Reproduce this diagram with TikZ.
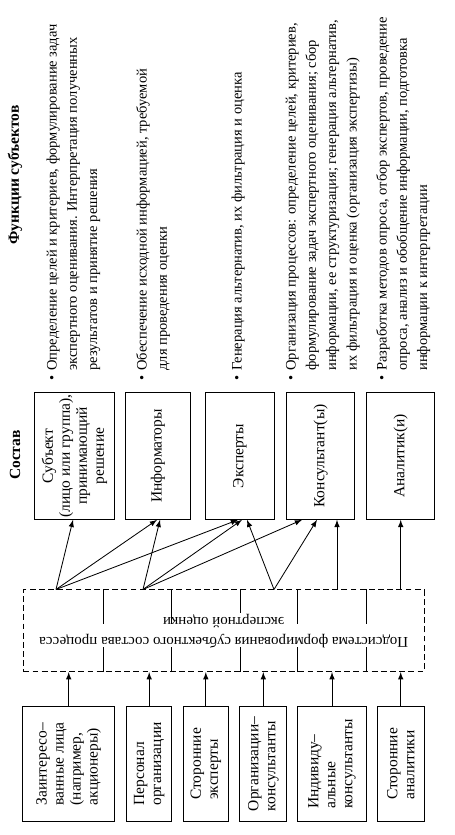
\documentclass[tikz,border=0pt]{standalone}
\usepackage{fontspec}
\setmainfont{Liberation Serif}

\tikzset{
  box/.style={draw, line width=0.6pt, rotate=90, inner sep=0pt, font=\fontsize{9.3}{10.2}\selectfont},
  funcs/.style={rotate=90, anchor=north west, inner sep=0pt, font=\fontsize{8.7}{12.2}\selectfont},
  head/.style={rotate=90, inner sep=0pt, font=\fontsize{9.3}{11}\selectfont\bfseries},
  arr/.style={-latex, line width=0.5pt},
}
\newcommand{\bul}[1]{\begin{tabular}{@{}l@{\hspace{3pt}}l@{}}\textbullet & #1\end{tabular}}

\begin{document}
\begin{tikzpicture}[x=0.6pt, y=-0.6pt]
  \useasboundingbox (0,0) rectangle (455,835);

  % headings
  \node[head] (hfunc) at (15,175) {Функции субъектов};
  \node[head] (hsost) at (15,455) {Состав};

  % functions
  \node[funcs] (f1) at (42,381) {\bul{Определение целей и критериев, формулирование задач\\
    & экспертного оценивания. Интерпретация полученных\\
    & результатов и принятие решения}};
  \node[funcs] (f2) at (132,381) {\bul{Обеспечение исходной информацией, требуемой\\
    & для проведения оценки}};
  \node[funcs] (f3) at (227,381) {\bul{Генерация альтернатив, их фильтрация и оценка}};
  \node[funcs] (f4) at (281,381) {\bul{Организация процессов: определение целей, критериев,\\
    & формулирование задач экспертного оценивания; сбор\\
    & информации, ее структуризация; генерация альтернатив,\\
    & их фильтрация и оценка (организация экспертизы)}};
  \node[funcs] (f5) at (372,381) {\bul{Разработка методов опроса, отбор экспертов, проведение\\
    & опроса, анализ и обобщение информации, подготовка\\
    & информации к интерпретации}};

  % subjects
  \node[box, minimum width=76pt, minimum height=48.2pt, align=center] (subj) at (74.5,456) {Субъект\\(лицо или группа),\\принимающий\\решение};
  \node[box, minimum width=76pt, minimum height=39.2pt] (inform) at (158,456) {Информаторы};
  \node[box, minimum width=76pt, minimum height=41.6pt] (expert) at (240,456) {Эксперты};
  \node[box, minimum width=76pt, minimum height=40.8pt] (consult) at (320.7,456) {Консультант(ы)};
  \node[box, minimum width=76pt, minimum height=40.8pt] (analyst) at (400.7,456) {Аналитик(и)};

  % subsystem
  \node[draw, dash pattern=on 3.5pt off 2pt, line width=0.6pt, minimum width=240.4pt, minimum height=49pt, inner sep=0pt] (subsys) at (223.7,630.8) {};
  \node[rotate=180, align=center, inner sep=0pt, font=\fontsize{9}{12}\selectfont] (lsubsys) at (subsys.center) {Подсистема формирования субъектного состава процесса\\экспертной оценки};
  \foreach \x in {103.3, 171.7, 297.3, 366.7} {
    \draw[line width=0.6pt] (\x,0 |- subsys.north) -- ++(0,35);
    \draw[line width=0.6pt] (\x,0 |- subsys.south) -- ++(0,-25);
  }
  \draw[line width=0.6pt] (240.7,0 |- subsys.north) -- ++(0,24);
  \draw[line width=0.6pt] (240.7,0 |- subsys.south) -- ++(0,-25);

  % sources
  \node[box, minimum width=69.4pt, minimum height=55.2pt, align=left] (stake) at (68.7,763.9) {Заинтересо--\\ванные лица\\(например,\\акционеры)};
  \node[box, minimum width=69.4pt, minimum height=27pt, align=left] (staff) at (149.2,763.9) {Персонал\\организации};
  \node[box, minimum width=69.4pt, minimum height=27pt, align=left] (extexp) at (205.8,763.9) {Сторонние\\эксперты};
  \node[box, minimum width=69.4pt, minimum height=28pt, align=left] (orgcons) at (263.3,763.9) {Организации--\\консультанты};
  \node[box, minimum width=69.4pt, minimum height=41.6pt, align=left] (indcons) at (332,763.9) {Индивиду--\\альные\\консультанты};
  \node[box, minimum width=69.4pt, minimum height=28pt, align=left] (extan) at (400.7,763.9) {Сторонние\\аналитики};

  \foreach \n in {stake, staff, extexp, orgcons, indcons, extan}
    \draw[arr] (\n.east) -- (\n.east |- subsys.south);

  % links to subjects
  \coordinate (p1) at (56,0 |- subsys.north);
  \coordinate (p2) at (143,0 |- subsys.north);
  \coordinate (p3) at (274,0 |- subsys.north);
  \coordinate (v1) at (337,0 |- subsys.north);
  \coordinate (v2) at (400.7,0 |- subsys.north);
  \foreach \s/\t/\x in {p1/subj/73, p1/inform/157, p1/expert/238, p2/inform/160, p2/expert/242,
                        p2/consult/302, p3/expert/247, p3/consult/317, v1/consult/337, v2/analyst/400.7}
    \draw[arr] (\s) -- (\x,0 |- \t.west);
\end{tikzpicture}
\end{document}
